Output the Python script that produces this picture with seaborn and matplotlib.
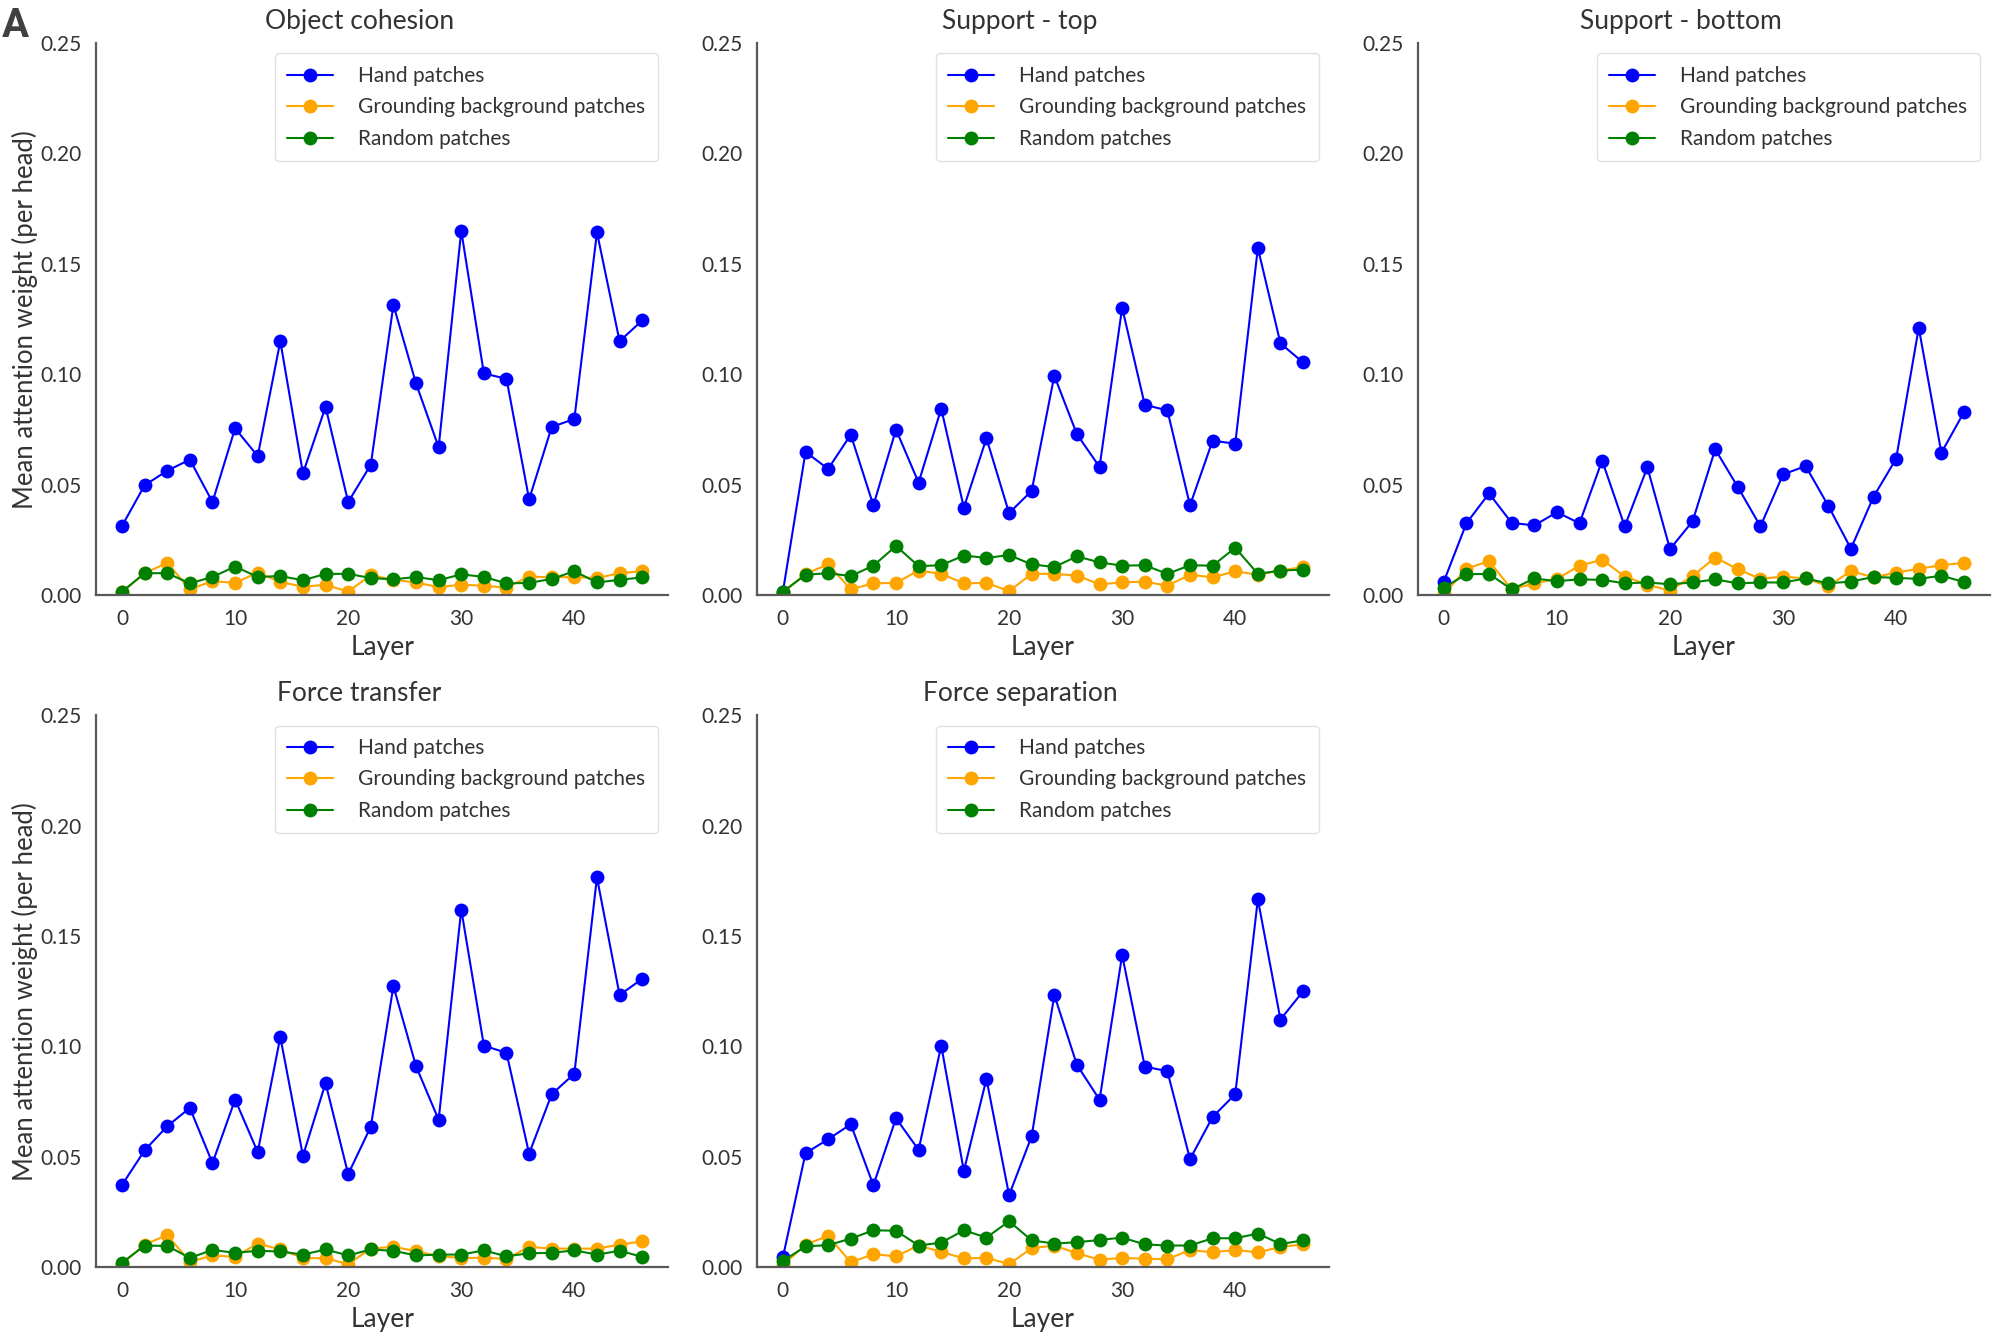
import numpy as np
import pandas as pd
import matplotlib
matplotlib.use("Agg")
import matplotlib.pyplot as plt
import seaborn as sns

# ── Data ──────────────────────────────────────────────────────────────────
LAYERS = list(range(0, 48, 2))
SERIES = ["Hand patches", "Grounding background patches", "Random patches"]
COLORS = {"Hand patches": "blue", "Grounding background patches": "orange", "Random patches": "green"}
PANELS = ["Object cohesion", "Support - top", "Support - bottom", "Force transfer", "Force separation"]

cohesion_hand = [0.0314, 0.0498, 0.0564, 0.0614, 0.0422, 0.0756, 0.0630, 0.1150, 0.0552, 0.0853, 0.0422, 0.0591,
                 0.1314, 0.0959, 0.0670, 0.1650, 0.1004, 0.0980, 0.0434, 0.0762, 0.0798, 0.1643, 0.1150, 0.1244]
cohesion_ground = [0.0014, 0.0100, 0.0147, 0.0027, 0.0064, 0.0056, 0.0103, 0.0060, 0.0039, 0.0047, 0.0017, 0.0091,
                   0.0070, 0.0058, 0.0037, 0.0048, 0.0043, 0.0035, 0.0085, 0.0081, 0.0083, 0.0078, 0.0100, 0.0109]
cohesion_random = [0.0016, 0.0100, 0.0100, 0.0054, 0.0083, 0.0130, 0.0083, 0.0087, 0.0068, 0.0097, 0.0097, 0.0078,
                   0.0072, 0.0083, 0.0068, 0.0095, 0.0083, 0.0054, 0.0056, 0.0074, 0.0109, 0.0058, 0.0070, 0.0081]

top_hand = [0.0016, 0.0649, 0.0572, 0.0727, 0.0407, 0.0750, 0.0510, 0.0845, 0.0397, 0.0711, 0.0372, 0.0473,
            0.0994, 0.0729, 0.0581, 0.1302, 0.0862, 0.0837, 0.0407, 0.0700, 0.0686, 0.1572, 0.1140, 0.1054]
top_ground = [0.0012, 0.0097, 0.0140, 0.0027, 0.0054, 0.0056, 0.0112, 0.0097, 0.0054, 0.0056, 0.0019, 0.0097,
              0.0097, 0.0089, 0.0050, 0.0058, 0.0062, 0.0043, 0.0093, 0.0081, 0.0109, 0.0093, 0.0112, 0.0128]
top_random = [0.0016, 0.0093, 0.0100, 0.0087, 0.0134, 0.0223, 0.0132, 0.0136, 0.0180, 0.0169, 0.0182, 0.0140,
              0.0128, 0.0176, 0.0149, 0.0134, 0.0136, 0.0097, 0.0136, 0.0134, 0.0215, 0.0097, 0.0112, 0.0116]

bottom_hand = [0.0062, 0.0326, 0.0461, 0.0328, 0.0316, 0.0376, 0.0326, 0.0610, 0.0312, 0.0579, 0.0209, 0.0335,
               0.0661, 0.0490, 0.0312, 0.0547, 0.0585, 0.0405, 0.0211, 0.0446, 0.0618, 0.1211, 0.0645, 0.0829]
bottom_ground = [0.0004, 0.0120, 0.0155, 0.0027, 0.0054, 0.0074, 0.0134, 0.0161, 0.0085, 0.0048, 0.0021, 0.0087,
                 0.0171, 0.0118, 0.0074, 0.0085, 0.0076, 0.0041, 0.0110, 0.0081, 0.0103, 0.0120, 0.0136, 0.0147]
bottom_random = [0.0035, 0.0095, 0.0097, 0.0027, 0.0076, 0.0064, 0.0072, 0.0070, 0.0054, 0.0058, 0.0050, 0.0058,
                 0.0072, 0.0054, 0.0058, 0.0058, 0.0076, 0.0054, 0.0062, 0.0083, 0.0079, 0.0074, 0.0089, 0.0060]

transfer_hand = [0.0373, 0.0530, 0.0639, 0.0722, 0.0472, 0.0760, 0.0522, 0.1043, 0.0505, 0.0834, 0.0422, 0.0637,
                 0.1273, 0.0911, 0.0668, 0.1620, 0.1004, 0.0971, 0.0515, 0.0784, 0.0877, 0.1765, 0.1233, 0.1306]
transfer_ground = [0.0015, 0.0103, 0.0147, 0.0025, 0.0054, 0.0048, 0.0108, 0.0081, 0.0043, 0.0041, 0.0015, 0.0085,
                   0.0093, 0.0074, 0.0050, 0.0043, 0.0043, 0.0039, 0.0093, 0.0085, 0.0085, 0.0085, 0.0103, 0.0118]
transfer_random = [0.0021, 0.0099, 0.0097, 0.0043, 0.0079, 0.0066, 0.0075, 0.0072, 0.0058, 0.0081, 0.0054, 0.0081,
                   0.0075, 0.0054, 0.0058, 0.0058, 0.0077, 0.0050, 0.0064, 0.0066, 0.0077, 0.0058, 0.0075, 0.0048]

separation_hand = [0.0046, 0.0517, 0.0580, 0.0648, 0.0372, 0.0675, 0.0532, 0.1004, 0.0437, 0.0853, 0.0327, 0.0594,
                   0.1233, 0.0917, 0.0759, 0.1414, 0.0909, 0.0888, 0.0490, 0.0681, 0.0784, 0.1666, 0.1122, 0.1250]
separation_ground = [0.0010, 0.0103, 0.0143, 0.0023, 0.0060, 0.0050, 0.0099, 0.0070, 0.0041, 0.0043, 0.0015, 0.0087,
                     0.0099, 0.0064, 0.0035, 0.0043, 0.0039, 0.0037, 0.0079, 0.0068, 0.0079, 0.0068, 0.0093, 0.0104]
separation_random = [0.0029, 0.0095, 0.0101, 0.0130, 0.0168, 0.0166, 0.0099, 0.0112, 0.0168, 0.0135, 0.0209, 0.0122,
                     0.0108, 0.0114, 0.0124, 0.0135, 0.0104, 0.0099, 0.0099, 0.0132, 0.0132, 0.0153, 0.0106, 0.0122]

PANEL_DATA = {
    "Object cohesion": (cohesion_hand, cohesion_ground, cohesion_random),
    "Support - top": (top_hand, top_ground, top_random),
    "Support - bottom": (bottom_hand, bottom_ground, bottom_random),
    "Force transfer": (transfer_hand, transfer_ground, transfer_random),
    "Force separation": (separation_hand, separation_ground, separation_random),
}

# ── Style ──────────────────────────────────────────────────────────────────
sns.set_theme(style="white")
plt.rcParams["font.family"] = ["Lato", "DejaVu Sans"]
plt.rcParams["text.color"] = ".2"
plt.rcParams["axes.labelcolor"] = ".2"
plt.rcParams["xtick.color"] = ".2"
plt.rcParams["ytick.color"] = ".2"
plt.rcParams["axes.edgecolor"] = ".35"


def long_frame(task):
    rows = []
    for name, vals in zip(SERIES, PANEL_DATA[task]):
        rows.append(pd.DataFrame({"Layer": LAYERS, "value": vals, "series": name}))
    return pd.concat(rows, ignore_index=True)


fig, axes = plt.subplots(2, 3, figsize=(20, 13.44), dpi=100)
fig.subplots_adjust(left=0.048, right=0.995, top=0.968, bottom=0.057, wspace=0.155, hspace=0.217)

for i, task in enumerate(PANELS):
    ax = axes.flat[i]
    sns.lineplot(data=long_frame(task), x="Layer", y="value", hue="series", hue_order=SERIES,
                 palette=COLORS, marker="o", markersize=10, markeredgewidth=0, linewidth=1.5, ax=ax)
    ax.set_ylim(0, 0.25)
    ax.set_yticks([0, 0.05, 0.10, 0.15, 0.20, 0.25])
    ax.set_yticklabels(["0.00", "0.05", "0.10", "0.15", "0.20", "0.25"])
    ax.set_xticks([0, 10, 20, 30, 40])
    ax.tick_params(labelsize=15, pad=4)
    ax.set_title(task, fontsize=19, pad=10, x=0.46)
    ax.set_xlabel("Layer", fontsize=19, labelpad=4)
    ax.set_ylabel("Mean attention weight (per head)" if i % 3 == 0 else "", fontsize=18.5, labelpad=2)
    for s in ["left", "bottom"]:
        ax.spines[s].set_linewidth(1.6)
    sns.despine(ax=ax)
    leg = ax.legend(loc="upper right", fontsize=15, frameon=True, borderpad=0.6,
                    labelspacing=0.55, handlelength=2.2, handletextpad=1.2)
    leg.get_frame().set_edgecolor("0.85")

axes.flat[5].set_visible(False)
fig.text(0.001, 0.995, "A", fontsize=29, fontweight="bold", va="top", ha="left", color=".25",
         family=["Roboto", "DejaVu Sans"])

fig.savefig("out.png", dpi=100)
